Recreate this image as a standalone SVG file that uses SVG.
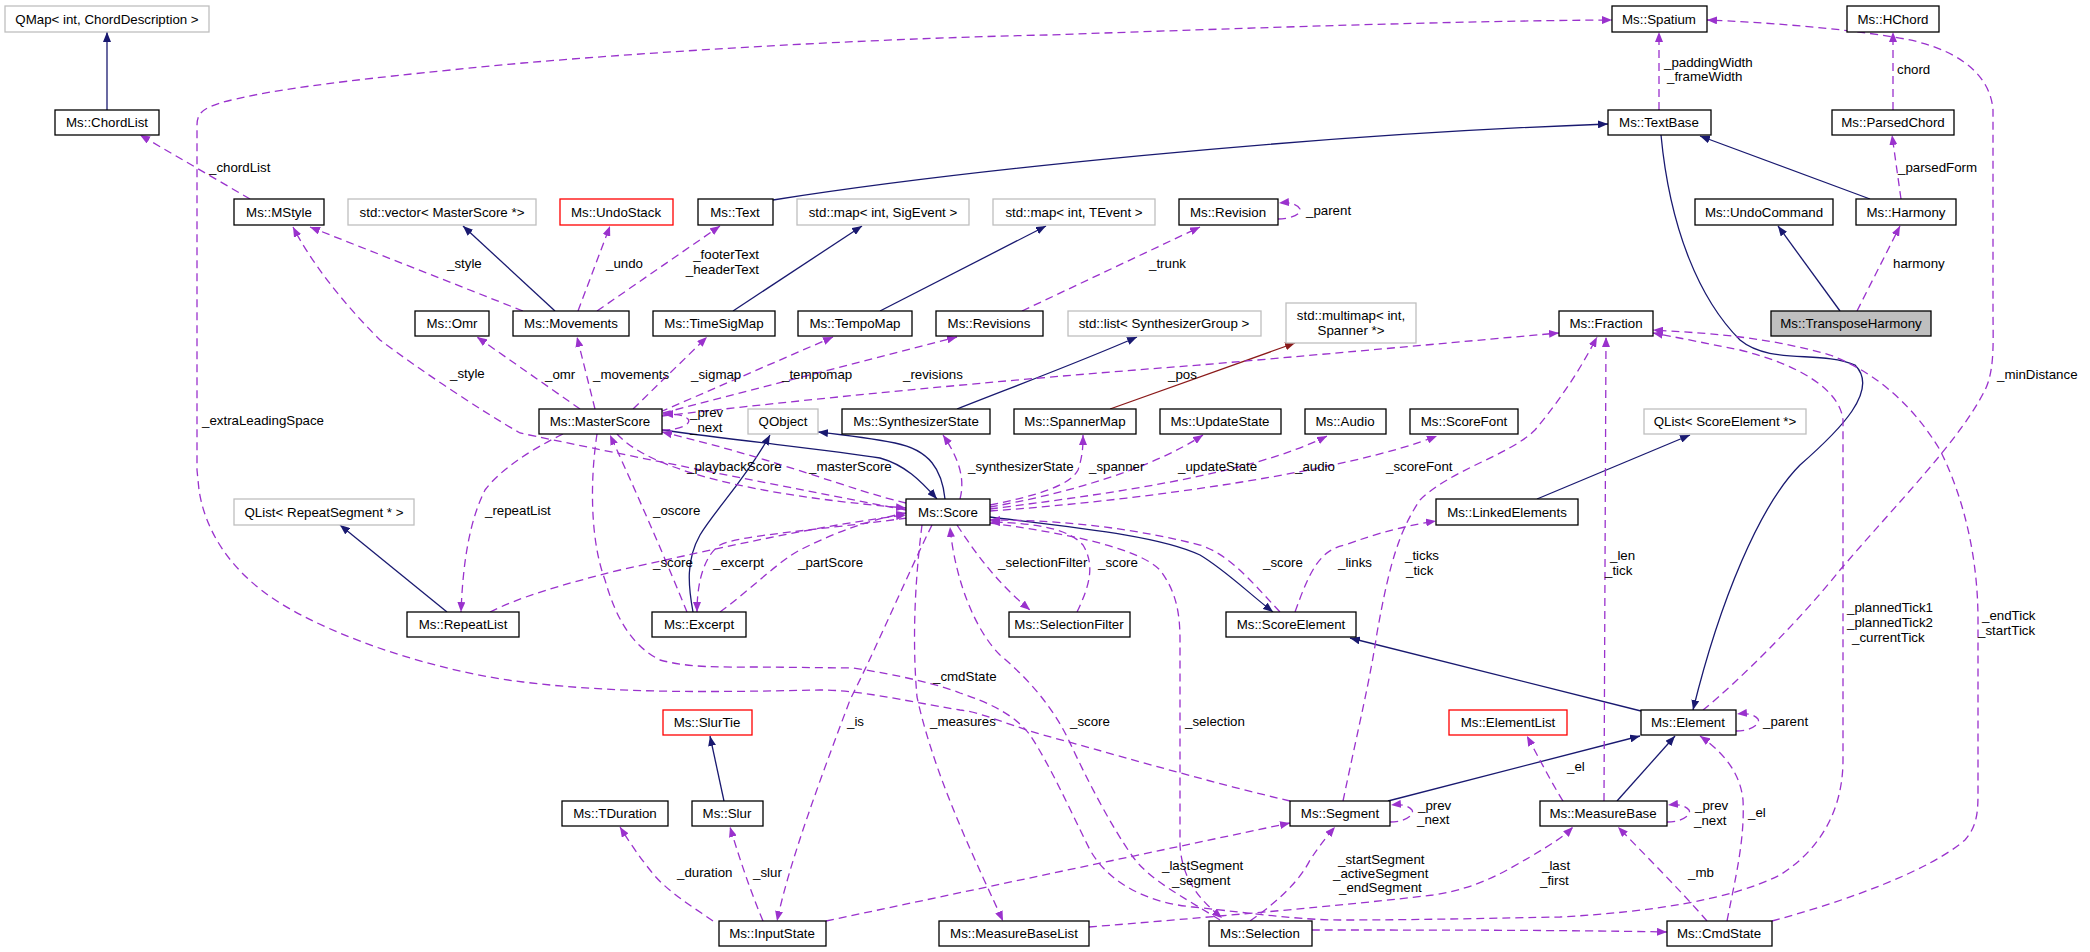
<svg xmlns="http://www.w3.org/2000/svg" width="2090" height="952" viewBox="0 0 2090 952">
<defs>
<style>
text{font-family:"Liberation Sans",Arial,sans-serif;font-size:13.3px;fill:#000}
.n rect{fill:#fff;stroke:#000;stroke-width:1.3}
.g rect{stroke:#bfbfbf}
.r rect{stroke:#ff0000}
.n text{text-anchor:middle}
.inh{fill:none;stroke:#191970;stroke-width:1.3;marker-end:url(#aN)}
.inr{fill:none;stroke:#8b1a1a;stroke-width:1.3;marker-end:url(#aR)}
.use{fill:none;stroke:#9a32cd;stroke-width:1.3;stroke-dasharray:8,5;marker-end:url(#aP)}
</style>
<marker id="aN" viewBox="0 0 10 8" refX="10" refY="4" markerWidth="10" markerHeight="8" orient="auto" markerUnits="userSpaceOnUse"><path d="M0,0 L10,4 L0,8 z" fill="#191970"/></marker>
<marker id="aR" viewBox="0 0 10 8" refX="10" refY="4" markerWidth="10" markerHeight="8" orient="auto" markerUnits="userSpaceOnUse"><path d="M0,0 L10,4 L0,8 z" fill="#8b1a1a"/></marker>
<marker id="aP" viewBox="0 0 10 8" refX="10" refY="4" markerWidth="10" markerHeight="8" orient="auto" markerUnits="userSpaceOnUse"><path d="M0,0 L10,4 L0,8 z" fill="#9a32cd"/></marker>
</defs>
<rect width="2090" height="952" fill="#fff"/>
<g id="edges">
<path class="inh" d="M107,110 L107,32"/>
<path class="inh" d="M555,311 L463,226"/>
<path class="inh" d="M733,311 L862,226"/>
<path class="inh" d="M880,311 L1046,226"/>
<path class="inh" d="M773,200 C950,172 1300,135 1608,124"/>
<path class="inh" d="M1870,199 L1700,136"/>
<path class="inh" d="M1840,311 L1778,226"/>
<path class="inh" d="M1661,135 C1670,230 1700,300 1740,340 C1770,365 1820,350 1855,365 C1880,390 1840,430 1800,465 C1760,505 1720,600 1693,710"/>
<path class="inh" d="M1537,499 L1690,435"/>
<path class="inh" d="M945,499 C942,470 930,450 895,443 C870,438 845,435 818,432"/>
<path class="inh" d="M693,612 C688,585 686,560 700,535 C715,510 745,480 770,435"/>
<path class="inh" d="M662,430 C750,442 830,450 880,458 C905,465 920,480 937,499"/>
<path class="inh" d="M957,409 C1010,388 1080,362 1137,337"/>
<path class="inr" d="M1110,409 L1295,343"/>
<path class="inh" d="M447,612 L340,525"/>
<path class="inh" d="M990,517 C1080,528 1160,536 1200,555 C1225,570 1245,590 1273,612"/>
<path class="inh" d="M1641,711 L1350,638"/>
<path class="inh" d="M1388,801 L1640,736"/>
<path class="inh" d="M1617,801 L1675,736"/>
<path class="inh" d="M724,801 L710,736"/>

<path class="use" d="M250,199 L140,135"/>
<path class="use" d="M523,311 L310,227"/>
<path class="use" d="M578,311 L610,226"/>
<path class="use" d="M597,311 L720,226"/>
<path class="use" d="M1278,219 C1290,219 1302,214 1300,209 C1297,204 1290,202 1279,203"/>
<path class="use" d="M1022,311 L1200,227"/>
<path class="use" d="M1659,110 L1659,32"/>
<path class="use" d="M1703,710 C1740,680 1800,620 1840,570 C1900,500 1960,440 1985,390 C1995,370 1993,340 1993,310 L1993,110 C1990,70 1950,45 1893,37 C1840,28 1760,22 1707,20"/>
<path class="use" d="M1893,110 L1893,32"/>
<path class="use" d="M1901,199 L1892,135"/>
<path class="use" d="M1857,311 L1900,226"/>
<path class="use" d="M1290,801 C1200,780 1100,750 1043,735 C1000,722 980,712 960,710 C900,700 860,690 820,690 C720,692 620,694 523,682 C440,672 340,640 280,603 C230,572 205,530 199,490 L197,470 L197,125 C197,112 205,108 220,103 C260,92 320,82 523,63 C700,48 900,38 1047,35 C1250,28 1450,21 1612,20"/>
<path class="use" d="M580,409 L477,337"/>
<path class="use" d="M595,409 L577,337"/>
<path class="use" d="M633,409 L707,337"/>
<path class="use" d="M660,412 L833,337"/>
<path class="use" d="M663,413 L957,337"/>
<path class="use" d="M662,416 C800,400 1000,380 1200,365 C1350,352 1480,340 1559,333"/>
<path class="use" d="M662,430 C680,430 692,424 688,419 C684,415 676,414 663,414"/>
<path class="use" d="M906,503 C850,490 780,460 662,432"/>
<path class="use" d="M617,434 C650,470 750,495 906,508"/>
<path class="use" d="M906,510 C750,480 600,450 520,433 C480,410 420,370 380,340 C340,300 310,260 293,227"/>
<path class="use" d="M563,434 C530,450 500,470 485,490 C470,520 463,560 461,612"/>
<path class="use" d="M687,612 C670,570 640,500 610,435"/>
<path class="use" d="M490,612 C520,597 560,585 620,570 C720,548 820,525 906,515"/>
<path class="use" d="M907,518 C820,530 740,535 720,545 C705,555 697,580 697,612"/>
<path class="use" d="M720,612 C750,590 780,560 800,550 C840,530 870,520 906,513"/>
<path class="use" d="M960,499 C965,480 960,460 943,435"/>
<path class="use" d="M990,505 C1040,495 1070,485 1078,470 C1083,455 1083,445 1083,435"/>
<path class="use" d="M990,507 C1060,495 1150,470 1203,435"/>
<path class="use" d="M990,509 C1100,495 1250,475 1327,436"/>
<path class="use" d="M990,511 C1150,500 1350,470 1437,436"/>
<path class="use" d="M1280,612 C1250,580 1230,555 1200,545 C1120,525 1050,520 990,520"/>
<path class="use" d="M1295,612 C1310,570 1320,550 1345,545 C1380,532 1410,525 1436,521"/>
<path class="use" d="M957,525 C980,560 1000,585 1030,610"/>
<path class="use" d="M1077,612 C1090,585 1095,565 1083,545 C1070,530 1040,523 990,522"/>
<path class="use" d="M990,523 C1080,535 1140,550 1160,570 C1175,590 1180,610 1180,640 L1180,845 C1182,880 1200,900 1222,918"/>
<path class="use" d="M932,525 C905,580 880,640 850,700 C820,780 790,860 777,921"/>
<path class="use" d="M922,525 C915,580 912,640 917,697 C935,780 980,870 1003,921"/>
<path class="use" d="M1220,920 C1180,895 1150,880 1133,857 C1110,825 1085,775 1070,743 C1055,710 1030,680 1000,655 C975,630 955,580 950,527"/>
<path class="use" d="M597,434 C590,480 590,540 605,580 C615,615 630,645 660,660 C690,668 720,667 760,667 L853,668 C900,675 940,685 960,693 C990,703 1015,715 1030,735 C1050,765 1070,810 1090,850 C1110,885 1150,903 1193,907 C1250,913 1300,920 1340,920 C1420,920 1500,918 1560,917 C1650,912 1730,900 1780,875 C1820,850 1843,810 1843,760 L1843,420 C1840,390 1800,365 1740,350 C1700,342 1680,338 1653,333"/>
<path class="use" d="M1312,930 C1420,930 1560,930 1667,932"/>
<path class="use" d="M826,921 L1290,823"/>
<path class="use" d="M1250,921 C1280,900 1300,880 1310,860 C1320,845 1328,835 1335,827"/>
<path class="use" d="M1390,822 C1405,822 1415,815 1412,810 C1408,805 1400,804 1391,805"/>
<path class="use" d="M1343,801 C1360,720 1370,680 1377,633 C1390,560 1400,530 1420,500 C1450,470 1510,455 1535,430 C1560,400 1580,370 1597,337"/>
<path class="use" d="M1604,801 L1606,337"/>
<path class="use" d="M1772,921 C1850,900 1930,870 1965,840 C1978,825 1978,810 1978,790 L1978,620 C1978,560 1965,500 1940,450 C1910,400 1870,370 1830,355 C1760,335 1700,333 1653,330"/>
<path class="use" d="M1736,731 C1751,731 1761,724 1758,719 C1754,714 1746,713 1737,714"/>
<path class="use" d="M1667,822 C1682,822 1692,815 1689,810 C1685,805 1677,804 1668,805"/>
<path class="use" d="M1563,801 C1550,780 1540,760 1527,736"/>
<path class="use" d="M1727,921 C1735,880 1745,840 1743,800 C1740,770 1720,750 1700,736"/>
<path class="use" d="M1707,921 C1680,890 1650,860 1618,827"/>
<path class="use" d="M1089,927 C1200,918 1350,905 1433,895 C1480,888 1507,870 1530,857 C1550,845 1562,838 1573,827"/>
<path class="use" d="M713,921 C690,905 665,890 650,870 C638,855 628,840 620,827"/>
<path class="use" d="M763,921 C750,890 740,860 730,827"/>
</g>
<g id="edge-labels">
<text x="209" y="172">_chordList</text>
<text x="447" y="268">_style</text>
<text x="606" y="268">_undo</text>
<text x="759" y="259" text-anchor="end">_footerText</text>
<text x="759" y="274" text-anchor="end">_headerText</text>
<text x="1306" y="215">_parent</text>
<text x="1149" y="268">_trunk</text>
<text x="1664" y="67">_paddingWidth</text>
<text x="1667" y="81">_frameWidth</text>
<text x="1897" y="74">chord</text>
<text x="1898" y="172">_parsedForm</text>
<text x="1893" y="268">harmony</text>
<text x="1997" y="379">_minDistance</text>
<text x="202" y="425">_extraLeadingSpace</text>
<text x="545" y="379">_omr</text>
<text x="593" y="379">_movements</text>
<text x="691" y="379">_sigmap</text>
<text x="782" y="379">_tempomap</text>
<text x="903" y="379">_revisions</text>
<text x="1168" y="379">_pos</text>
<text x="450" y="378">_style</text>
<text x="690" y="417">_prev</text>
<text x="690" y="432">_next</text>
<text x="687" y="471">_playbackScore</text>
<text x="809" y="471">_masterScore</text>
<text x="968" y="471">_synthesizerState</text>
<text x="1089" y="471">_spanner</text>
<text x="1178" y="471">_updateState</text>
<text x="1295" y="471">_audio</text>
<text x="1386" y="471">_scoreFont</text>
<text x="485" y="515">_repeatList</text>
<text x="653" y="515">_oscore</text>
<text x="653" y="567">_score</text>
<text x="713" y="567">_excerpt</text>
<text x="798" y="567">_partScore</text>
<text x="998" y="567">_selectionFilter</text>
<text x="1098" y="567">_score</text>
<text x="1263" y="567">_score</text>
<text x="1338" y="567">_links</text>
<text x="1405" y="560">_ticks</text>
<text x="1406" y="575">_tick</text>
<text x="1610" y="560">_len</text>
<text x="1605" y="575">_tick</text>
<text x="1847" y="612">_plannedTick1</text>
<text x="1847" y="627">_plannedTick2</text>
<text x="1852" y="642">_currentTick</text>
<text x="1982" y="620">_endTick</text>
<text x="1978" y="635">_startTick</text>
<text x="933" y="681">_cmdState</text>
<text x="847" y="726">_is</text>
<text x="930" y="726">_measures</text>
<text x="1070" y="726">_score</text>
<text x="1185" y="726">_selection</text>
<text x="1763" y="726">_parent</text>
<text x="1567" y="771">_el</text>
<text x="1418" y="810">_prev</text>
<text x="1417" y="824">_next</text>
<text x="1695" y="810">_prev</text>
<text x="1694" y="825">_next</text>
<text x="1748" y="817">_el</text>
<text x="1162" y="870">_lastSegment</text>
<text x="1172" y="885">_segment</text>
<text x="1338" y="864">_startSegment</text>
<text x="1333" y="878">_activeSegment</text>
<text x="1339" y="892">_endSegment</text>
<text x="1542" y="870">_last</text>
<text x="1540" y="885">_first</text>
<text x="1688" y="877">_mb</text>
<text x="677" y="877">_duration</text>
<text x="753" y="877">_slur</text>
</g>
<g id="n1" class="n g"><rect x="5" y="6" width="204" height="26"/><text x="107" y="24">QMap&lt; int, ChordDescription &gt;</text></g>
<g id="n2" class="n"><rect x="55" y="110" width="104" height="25"/><text x="107" y="127">Ms::ChordList</text></g>
<g id="n3" class="n"><rect x="234" y="199" width="90" height="26"/><text x="279" y="217">Ms::MStyle</text></g>
<g id="n4" class="n g"><rect x="348" y="199" width="188" height="26"/><text x="442" y="217">std::vector&lt; MasterScore *&gt;</text></g>
<g id="n5" class="n r"><rect x="560" y="199" width="113" height="26"/><text x="616" y="217">Ms::UndoStack</text></g>
<g id="n6" class="n"><rect x="698" y="199" width="75" height="26"/><text x="735" y="217">Ms::Text</text></g>
<g id="n7" class="n g"><rect x="797" y="199" width="172" height="26"/><text x="883" y="217">std::map&lt; int, SigEvent &gt;</text></g>
<g id="n8" class="n g"><rect x="993" y="199" width="162" height="26"/><text x="1074" y="217">std::map&lt; int, TEvent &gt;</text></g>
<g id="n9" class="n"><rect x="1179" y="199" width="99" height="26"/><text x="1228" y="217">Ms::Revision</text></g>
<g id="n10" class="n"><rect x="1612" y="6" width="95" height="26"/><text x="1659" y="24">Ms::Spatium</text></g>
<g id="n11" class="n"><rect x="1847" y="6" width="92" height="26"/><text x="1893" y="24">Ms::HChord</text></g>
<g id="n12" class="n"><rect x="1608" y="110" width="103" height="25"/><text x="1659" y="127">Ms::TextBase</text></g>
<g id="n13" class="n"><rect x="1832" y="110" width="122" height="25"/><text x="1893" y="127">Ms::ParsedChord</text></g>
<g id="n14" class="n"><rect x="1695" y="199" width="138" height="26"/><text x="1764" y="217">Ms::UndoCommand</text></g>
<g id="n15" class="n"><rect x="1856" y="199" width="100" height="26"/><text x="1906" y="217">Ms::Harmony</text></g>
<g id="n16" class="n"><rect x="1771" y="311" width="160" height="25" style="fill:#bfbfbf"/><text x="1851" y="328">Ms::TransposeHarmony</text></g>
<g id="n17" class="n"><rect x="1559" y="311" width="94" height="25"/><text x="1606" y="328">Ms::Fraction</text></g>
<g id="n18" class="n"><rect x="415" y="311" width="74" height="25"/><text x="452" y="328">Ms::Omr</text></g>
<g id="n19" class="n"><rect x="513" y="311" width="116" height="25"/><text x="571" y="328">Ms::Movements</text></g>
<g id="n20" class="n"><rect x="653" y="311" width="122" height="25"/><text x="714" y="328">Ms::TimeSigMap</text></g>
<g id="n21" class="n"><rect x="798" y="311" width="114" height="25"/><text x="855" y="328">Ms::TempoMap</text></g>
<g id="n22" class="n"><rect x="936" y="311" width="107" height="25"/><text x="989" y="328">Ms::Revisions</text></g>
<g id="n23" class="n g"><rect x="1068" y="311" width="193" height="25"/><text x="1164" y="328">std::list&lt; SynthesizerGroup &gt;</text></g>
<g id="n24" class="n g"><rect x="1286" y="303" width="130" height="40"/><text x="1351" y="320">std::multimap&lt; int,</text><text x="1351" y="335">Spanner *&gt;</text></g>
<g id="n25" class="n"><rect x="539" y="409" width="123" height="25"/><text x="600" y="426">Ms::MasterScore</text></g>
<g id="n26" class="n g"><rect x="748" y="409" width="70" height="25"/><text x="783" y="426">QObject</text></g>
<g id="n27" class="n"><rect x="842" y="409" width="148" height="25"/><text x="916" y="426">Ms::SynthesizerState</text></g>
<g id="n28" class="n"><rect x="1014" y="409" width="122" height="25"/><text x="1075" y="426">Ms::SpannerMap</text></g>
<g id="n29" class="n"><rect x="1160" y="409" width="121" height="25"/><text x="1220" y="426">Ms::UpdateState</text></g>
<g id="n30" class="n"><rect x="1305" y="409" width="81" height="25"/><text x="1345" y="426">Ms::Audio</text></g>
<g id="n31" class="n"><rect x="1410" y="409" width="108" height="25"/><text x="1464" y="426">Ms::ScoreFont</text></g>
<g id="n32" class="n g"><rect x="1644" y="409" width="162" height="25"/><text x="1725" y="426">QList&lt; ScoreElement *&gt;</text></g>
<g id="n33" class="n"><rect x="906" y="499" width="84" height="26"/><text x="948" y="517">Ms::Score</text></g>
<g id="n34" class="n"><rect x="1436" y="499" width="142" height="26"/><text x="1507" y="517">Ms::LinkedElements</text></g>
<g id="n35" class="n g"><rect x="234" y="499" width="180" height="26"/><text x="324" y="517">QList&lt; RepeatSegment * &gt;</text></g>
<g id="n36" class="n"><rect x="407" y="612" width="112" height="25"/><text x="463" y="629">Ms::RepeatList</text></g>
<g id="n37" class="n"><rect x="652" y="612" width="94" height="25"/><text x="699" y="629">Ms::Excerpt</text></g>
<g id="n38" class="n"><rect x="1009" y="612" width="121" height="25"/><text x="1069" y="629">Ms::SelectionFilter</text></g>
<g id="n39" class="n"><rect x="1226" y="612" width="130" height="25"/><text x="1291" y="629">Ms::ScoreElement</text></g>
<g id="n40" class="n r"><rect x="663" y="710" width="89" height="25"/><text x="707" y="727">Ms::SlurTie</text></g>
<g id="n41" class="n r"><rect x="1449" y="710" width="118" height="25"/><text x="1508" y="727">Ms::ElementList</text></g>
<g id="n42" class="n"><rect x="1641" y="710" width="95" height="25"/><text x="1688" y="727">Ms::Element</text></g>
<g id="n43" class="n"><rect x="562" y="801" width="106" height="25"/><text x="615" y="818">Ms::TDuration</text></g>
<g id="n44" class="n"><rect x="692" y="801" width="71" height="25"/><text x="727" y="818">Ms::Slur</text></g>
<g id="n45" class="n"><rect x="1290" y="801" width="100" height="25"/><text x="1340" y="818">Ms::Segment</text></g>
<g id="n46" class="n"><rect x="1540" y="801" width="127" height="25"/><text x="1603" y="818">Ms::MeasureBase</text></g>
<g id="n47" class="n"><rect x="719" y="921" width="107" height="25"/><text x="772" y="938">Ms::InputState</text></g>
<g id="n48" class="n"><rect x="939" y="921" width="150" height="25"/><text x="1014" y="938">Ms::MeasureBaseList</text></g>
<g id="n49" class="n"><rect x="1209" y="921" width="103" height="25"/><text x="1260" y="938">Ms::Selection</text></g>
<g id="n50" class="n"><rect x="1667" y="921" width="105" height="25"/><text x="1719" y="938">Ms::CmdState</text></g>
</svg>
